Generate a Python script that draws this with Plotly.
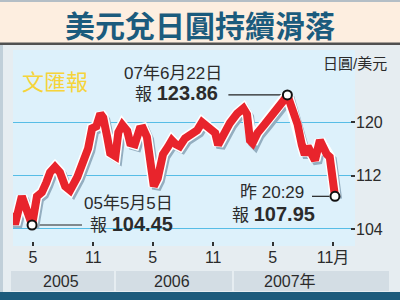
import pandas as pd
import plotly.graph_objects as go

# ---- data ----
dates = [
    "2005-03-06", "2005-03-14", "2005-04-04", "2005-04-17", "2005-05-05",
    "2005-05-20", "2005-06-04", "2005-06-17", "2005-06-29", "2005-07-14",
    "2005-07-29", "2005-08-14", "2005-08-29", "2005-09-20", "2005-10-08",
    "2005-10-23", "2005-11-04", "2005-11-17", "2005-11-29", "2005-12-08",
    "2005-12-20", "2005-12-29", "2006-01-14", "2006-01-23", "2006-02-04",
    "2006-02-19", "2006-02-28", "2006-03-14", "2006-03-29", "2006-04-08",
    "2006-04-20", "2006-04-29", "2006-05-11", "2006-05-23", "2006-06-08",
    "2006-06-23", "2006-07-05", "2006-07-17", "2006-07-29", "2006-08-14",
    "2006-09-04", "2006-09-20", "2006-10-05", "2006-10-17", "2006-11-01",
    "2006-11-14", "2006-11-23", "2006-12-08", "2006-12-29", "2007-01-20",
    "2007-02-08", "2007-02-19", "2007-02-28", "2007-03-08", "2007-03-23",
    "2007-04-14", "2007-04-29", "2007-05-14", "2007-05-29", "2007-06-11",
    "2007-06-22", "2007-07-05", "2007-07-14", "2007-07-23", "2007-08-05",
    "2007-08-14", "2007-08-23", "2007-09-04", "2007-09-14", "2007-09-29",
    "2007-10-08", "2007-10-20", "2007-10-29", "2007-11-04", "2007-11-11",
    "2007-11-14",
]
usd_jpy = [
    106.4, 104.7, 108.9, 107.1, 104.6,
    108.9, 109.5, 110.9, 112.5, 113.3,
    112.5, 110.4, 109.8, 111.8, 114.0,
    116.1, 119.1, 119.4, 121.3, 120.7,
    117.8, 115.4, 114.9, 118.5, 119.6,
    118.7, 116.9, 116.7, 119.0, 119.1,
    117.8, 114.6, 110.4, 111.6, 115.2,
    116.3, 117.3, 116.7, 116.4, 117.6,
    118.1, 118.8, 120.0, 119.4, 119.0,
    118.4, 116.6, 118.2, 119.9, 121.3,
    122.1, 121.2, 117.3, 116.9, 118.4,
    119.7, 120.6, 121.3, 122.1, 123.3,
    124.1, 122.1, 120.1, 119.7, 116.6,
    115.1, 116.4, 115.1, 114.3, 117.3,
    116.3, 115.2, 114.8, 112.8, 109.8,
    108.9,
]
marked_idx = [4, 60, 75]  # 05/5/5 low, 07/6/22 high, latest

tick_dates = ["2005-05-08", "2005-11-08", "2006-05-08", "2006-11-08", "2007-05-08", "2007-11-08"]
tick_labels = ["5", "11", "5", "11", "5", "11月"]
y_ticks = [104, 112, 120]
years = ["2005", "2006", "2007年"]

title = "美元兌日圓持續滑落"
unit = "日圓/美元"

# ---- layout helpers (pixel -> paper) ----
W, H = 400, 300
L, R, T, B = 13, 355, 50, 246


def px(x):
    return (x - L) / (R - L)


def py(y):
    return (B - y) / (B - T)


FONT = "Liberation Sans, Arial, Noto Sans CJK TC, sans-serif"
CJK = "Noto Sans CJK TC, Liberation Sans, sans-serif"
RED = "#e8242c"
DARK = "#2b2b2b"

d = pd.to_datetime(pd.Series(dates))
v = pd.Series(usd_jpy)

fig = go.Figure()
# shadow
fig.add_trace(go.Scatter(x=d + pd.Timedelta(days=8), y=v - 0.4, mode="lines",
                         line=dict(color="#94aec0", width=9), hoverinfo="skip"))
# white halo
fig.add_trace(go.Scatter(x=d, y=v, mode="lines",
                         line=dict(color="white", width=11), hoverinfo="skip"))
# red line
fig.add_trace(go.Scatter(x=d, y=v, mode="lines",
                         line=dict(color=RED, width=8), hoverinfo="skip"))
# markers
fig.add_trace(go.Scatter(x=[d[i] for i in marked_idx], y=[v[i] for i in marked_idx],
                         mode="markers",
                         marker=dict(symbol="circle", size=9, color="white",
                                     line=dict(color="#111", width=2)),
                         hoverinfo="skip"))

shapes = []
# title banner
shapes.append(dict(type="rect", xref="paper", yref="paper", x0=px(0), x1=px(400), y0=py(0), y1=py(43),
                   fillcolor="#fdeee0", line_width=0, layer="below"))
shapes.append(dict(type="rect", xref="paper", yref="paper", x0=px(0), x1=px(400), y0=py(0), y1=py(2),
                   fillcolor="#b4bec6", line_width=0, layer="below"))
shapes.append(dict(type="rect", xref="paper", yref="paper", x0=px(0), x1=px(400), y0=py(42.5), y1=py(45),
                   fillcolor="#505050", line_width=0, layer="below"))
# left border strip
shapes.append(dict(type="rect", xref="paper", yref="paper", x0=px(0), x1=px(3), y0=py(45), y1=py(292),
                   fillcolor="#c0cfd9", line_width=0, layer="below"))
# bottom bar
shapes.append(dict(type="rect", xref="paper", yref="paper", x0=px(0), x1=px(400), y0=py(292), y1=py(300),
                   fillcolor="#1d5b7c", line_width=0, layer="below"))
# year bands
for x0, x1 in [(11, 114), (116, 232), (234, 389)]:
    shapes.append(dict(type="rect", xref="paper", yref="paper", x0=px(x0), x1=px(x1), y0=py(271), y1=py(291),
                       fillcolor="#d3dde4", line_width=0, layer="below"))
# connector lines
for i, (a, b) in zip(marked_idx, [(0, 50), (-59, 0), (-23, 0)]):
    shapes.append(dict(type="line", xref="x", yref="y", xsizemode="pixel", xanchor=d[i],
                       x0=a, x1=b, y0=v[i], y1=v[i], line=dict(color="#222", width=1.2), layer="below"))

ann = []


def text(t, x, y, size, color=DARK, family=FONT, xanchor="left"):
    ann.append(dict(text=t, x=px(x), y=py(y), xref="paper", yref="paper", xanchor=xanchor,
                    yanchor="middle", showarrow=False, font=dict(family=family, size=size, color=color)))


text(f"<b>{title}</b>", 200, 24, 30, color="#1b5b7d", family=CJK, xanchor="center")
text(unit, 321, 64, 15)
text("文匯報", 20, 80, 22, color="#f6d43a", family=CJK)
labels = [
    ("07年6月22日", 122, 73), ("報 <span style='font-size:20px'><b>123.86</b></span>", 133, 93),
    ("05年5月5日", 82, 203), ("報 <span style='font-size:20px'><b>104.45</b></span>", 88, 224),
    ("昨 20:29", 238, 192), ("報 <span style='font-size:20px'><b>107.95</b></span>", 230, 214),
]
for t, x, y in labels:
    text(t, x, y, 17)
for t, cx in zip(years, [61, 172, 290]):
    text(t, cx, 281, 16, xanchor="center")

fig.update_layout(
    width=W, height=H,
    margin=dict(l=L, r=W - R, t=T, b=H - B),
    paper_bgcolor="#e6edf1",
    plot_bgcolor="#ddf1fb",
    showlegend=False,
    shapes=shapes,
    annotations=ann,
    xaxis=dict(type="date", range=["2005-03-08", "2008-01-14"], tickvals=tick_dates, ticktext=tick_labels,
               ticks="inside", ticklen=4, tickwidth=1.5, tickcolor="#333", showgrid=False, zeroline=False,
               tickfont=dict(family=FONT, size=16, color=DARK), fixedrange=True),
    yaxis=dict(side="right", range=[101.45, 130.84], tickvals=y_ticks, ticks="inside", ticklen=4,
               tickwidth=1.5, tickcolor="#333", showgrid=True, gridcolor="#56bde6", gridwidth=1,
               zeroline=False, tickfont=dict(family=FONT, size=16, color=DARK), fixedrange=True),
)

fig.write_html("out.html")
